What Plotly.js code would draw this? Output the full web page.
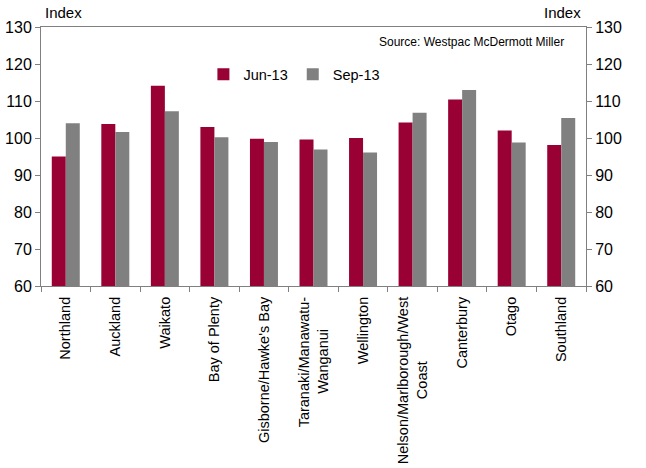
<!DOCTYPE html>
<html>
<head>
<meta charset="utf-8">
<script src="https://cdn.plot.ly/plotly-3.0.1.min.js"></script>
<style>
  html, body { margin: 0; padding: 0; background: #ffffff; }
  #chart { width: 646px; height: 468px; }
</style>
</head>
<body>
<div id="chart"></div>
<script>
// Regional index by region, June vs September 2013
const regions = [
  "Northland",
  "Auckland",
  "Waikato",
  "Bay of Plenty",
  "Gisborne/Hawke's Bay",
  "Taranaki/Manawatu-<br>Wanganui\u00A0\u00A0\u00A0\u00A0\u00A0\u00A0\u00A0\u00A0",
  "Wellington",
  "Nelson/Marlborough/West<br>Coast\u00A0\u00A0\u00A0\u00A0\u00A0\u00A0\u00A0\u00A0\u00A0\u00A0\u00A0\u00A0\u00A0\u00A0\u00A0\u00A0",
  "Canterbury",
  "Otago",
  "Southland"
];
const jun13 = [95.0, 103.8, 114.1, 103.0, 99.8, 99.6, 100.0, 104.2, 110.4, 102.0, 98.1];
const sep13 = [104.0, 101.6, 107.2, 100.2, 98.9, 96.9, 96.1, 106.8, 113.0, 98.8, 105.4];
const seriesNames = ["Jun-13", "Sep-13"];
const yTicks = [60, 70, 80, 90, 100, 110, 120, 130];

const FONT = "Liberation Sans, Arial, sans-serif";
const AXIS_COLOR = "#808080";

const traces = [
  {
    type: "bar",
    name: seriesNames[0],
    x: regions,
    y: jun13,
    marker: { color: "#990033" },
    hoverinfo: "x+y"
  },
  {
    type: "bar",
    name: seriesNames[1],
    x: regions,
    y: sep13,
    marker: { color: "#808080" },
    hoverinfo: "x+y"
  },
  {
    // carrier for the right-hand axis (same scale, draws nothing)
    type: "scatter",
    mode: "none",
    x: regions,
    y: sep13,
    yaxis: "y2",
    showlegend: false,
    hoverinfo: "skip"
  }
];

const yAxisCommon = {
  range: [60, 130],
  tickvals: yTicks,
  ticktext: yTicks.map(String),
  showgrid: false,
  zeroline: false,
  showline: true,
  linecolor: AXIS_COLOR,
  linewidth: 1,
  ticks: "outside",
  ticklen: 5,
  tickcolor: AXIS_COLOR,
  tickfont: { family: FONT, size: 16, color: "#000000" },
  fixedrange: true
};

const layout = {
  width: 646,
  height: 468,
  margin: { l: 41, r: 60, t: 27, b: 182, pad: 0 },
  paper_bgcolor: "#ffffff",
  plot_bgcolor: "#ffffff",
  barmode: "group",
  bargap: 0.435,
  bargroupgap: 0,
  showlegend: true,
  legend: {
    orientation: "h",
    x: 0.298,
    xanchor: "left",
    y: 0.817,
    yanchor: "middle",
    bgcolor: "rgba(0,0,0,0)",
    borderwidth: 0,
    font: { family: FONT, size: 14.5, color: "#000000" },
    itemwidth: 30,
    traceorder: "normal"
  },
  xaxis: {
    type: "category",
    tickangle: -90,
    tickfont: { family: FONT, size: 14.5, color: "#000000" },
    ticks: "outside",
    tickson: "boundaries",
    ticklen: 5,
    tickcolor: AXIS_COLOR,
    ticklabelstandoff: 4,
    showline: true,
    mirror: true,
    linecolor: AXIS_COLOR,
    linewidth: 1,
    showgrid: false,
    fixedrange: true
  },
  yaxis: Object.assign({}, yAxisCommon, { side: "left" }),
  yaxis2: Object.assign({}, yAxisCommon, {
    side: "right",
    overlaying: "y",
    anchor: "x"
  }),
  annotations: [
    {
      text: "Index",
      xref: "paper", yref: "paper",
      x: 0.004, y: 1.0, xanchor: "left", yanchor: "bottom",
      yshift: 4,
      showarrow: false,
      font: { family: FONT, size: 15, color: "#000000" }
    },
    {
      text: "Index",
      xref: "paper", yref: "paper",
      x: 0.995, y: 1.0, xanchor: "right", yanchor: "bottom",
      yshift: 4,
      showarrow: false,
      font: { family: FONT, size: 15, color: "#000000" }
    },
    {
      text: "Source: Westpac McDermott Miller",
      xref: "paper", yref: "paper",
      x: 0.963, y: 0.94, xanchor: "right", yanchor: "middle",
      yshift: 1,
      showarrow: false,
      font: { family: FONT, size: 12, color: "#000000" }
    }
  ]
};

Plotly.newPlot("chart", traces, layout, { displayModeBar: false, staticPlot: true });
</script>
</body>
</html>
